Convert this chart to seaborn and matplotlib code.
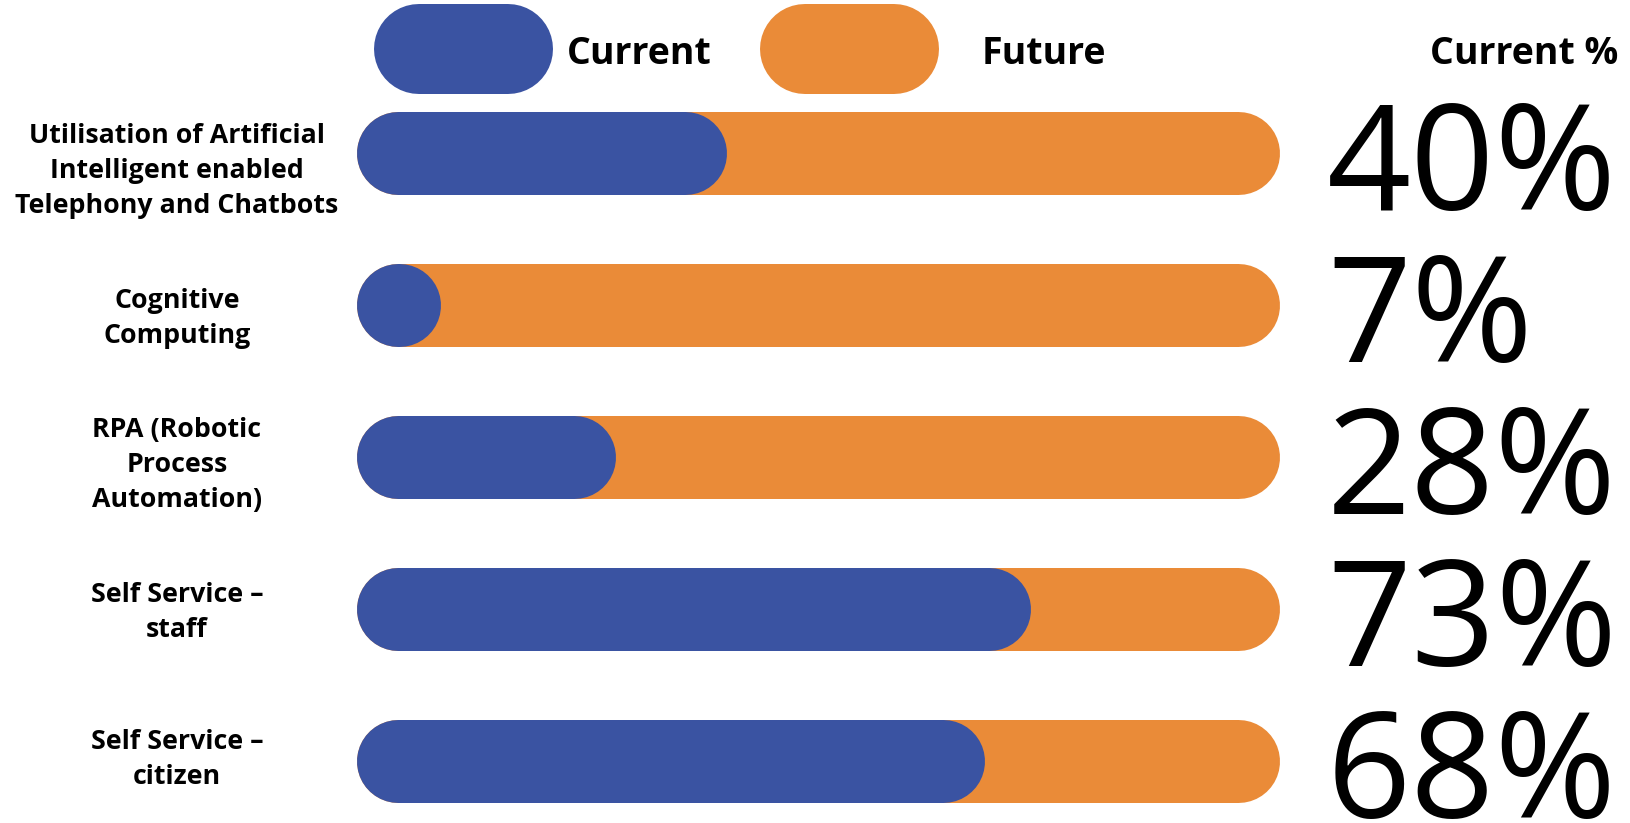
import matplotlib
matplotlib.use("Agg")
import matplotlib.pyplot as plt
import matplotlib.transforms as mtransforms
import seaborn as sns
import pandas as pd

# ---------------- data ----------------
categories = [
    "Utilisation of Artificial\nIntelligent enabled\nTelephony and Chatbots",
    "Cognitive\nComputing",
    "RPA (Robotic\nProcess\nAutomation)",
    "Self Service –\nstaff",
    "Self Service –\ncitizen",
]
current = [40, 7, 28, 73, 68]
future_total = [100, 100, 100, 100, 100]
pct_labels = ["40%", "7%", "28%", "73%", "68%"]
legend_labels = ["Current", "Future"]
side_title = "Current %"

# ---------------- style ----------------
BLUE = "#3A53A2"
ORANGE = "#EA8B38"
W, H = 1631, 823
DPI = 100

sns.set_theme(style="white")
plt.rcParams["font.family"] = ["Open Sans", "DejaVu Sans"]
plt.rcParams["text.color"] = "black"

fig = plt.figure(figsize=(W / DPI, H / DPI), dpi=DPI)
fig.patch.set_facecolor("white")

# overlay axes in pixel coordinates (for legend / labels)
ov = fig.add_axes([0, 0, 1, 1])
ov.set_xlim(0, W)
ov.set_ylim(H, 0)
ov.axis("off")

# bar axes
bar_left, bar_right = 357, 1280
row0, row_step = 153.0, 152.1
ylo, yhi = -0.5, 4.3
top_px = row0 + ylo * row_step
bot_px = row0 + yhi * row_step
ax = fig.add_axes([bar_left / W, (H - bot_px) / H,
                   (bar_right - bar_left) / W, (bot_px - top_px) / H])

df = pd.DataFrame({"category": categories, "current": current, "future": future_total})
sns.barplot(data=df, y="category", x="future", color=ORANGE, ax=ax, width=0.5)
sns.barplot(data=df, y="category", x="current", color=BLUE, ax=ax, width=0.5)
ax.set_xlim(0, 100)
ax.set_ylim(yhi, ylo)
ax.axis("off")

bar_h_px = 83
lw_pt = bar_h_px * 72 / DPI
r = (bar_h_px / 2) / (bar_right - bar_left) * 100  # cap radius in data units

patches = list(ax.patches)
for i, p in enumerate(patches):
    color = ORANGE if i < len(categories) else BLUE
    yc = p.get_y() + p.get_height() / 2
    x0 = p.get_x()
    x1 = x0 + p.get_width()
    x1 = max(x1, x0 + 2 * r + 0.05)
    p.set_visible(False)
    ax.plot([x0 + r, x1 - r], [yc, yc], color=color, lw=lw_pt,
            solid_capstyle="round", zorder=2 + (i >= len(categories)))

# legend pills
leg_lw = 90 * 72 / DPI
for (xa, xb), col in zip([(374, 553), (760, 939)], [BLUE, ORANGE]):
    ov.plot([xa + 45, xb - 45], [49, 49], color=col, lw=leg_lw, solid_capstyle="round")
ov.text(567, 64, legend_labels[0], fontsize=27, fontweight="bold", ha="left", va="baseline", color="black")
ov.text(982, 64, legend_labels[1], fontsize=27, fontweight="bold", ha="left", va="baseline", color="black")
ov.text(1430, 64, side_title, fontsize=27, fontweight="bold", ha="left", va="baseline", color="black")

# row-linked percentage labels
blend = mtransforms.blended_transform_factory(ov.transData, ax.transData)
pct_tr = mtransforms.offset_copy(blend, fig=fig, y=-57, units="dots")
for i, lab in enumerate(pct_labels):
    ov.text(1327, i, lab, transform=pct_tr, fontsize=106, ha="left", va="baseline", color="black")

# category labels (own row spacing, as in the reference layout)
lab0, lab_step = 171.2, 147.1
for i, cat in enumerate(categories):
    ov.text(177, lab0 + lab_step * i, cat, fontsize=19.3, fontweight="bold",
            ha="center", va="center", linespacing=1.45, multialignment="center", color="black")

fig.savefig("out.png", dpi=DPI)
